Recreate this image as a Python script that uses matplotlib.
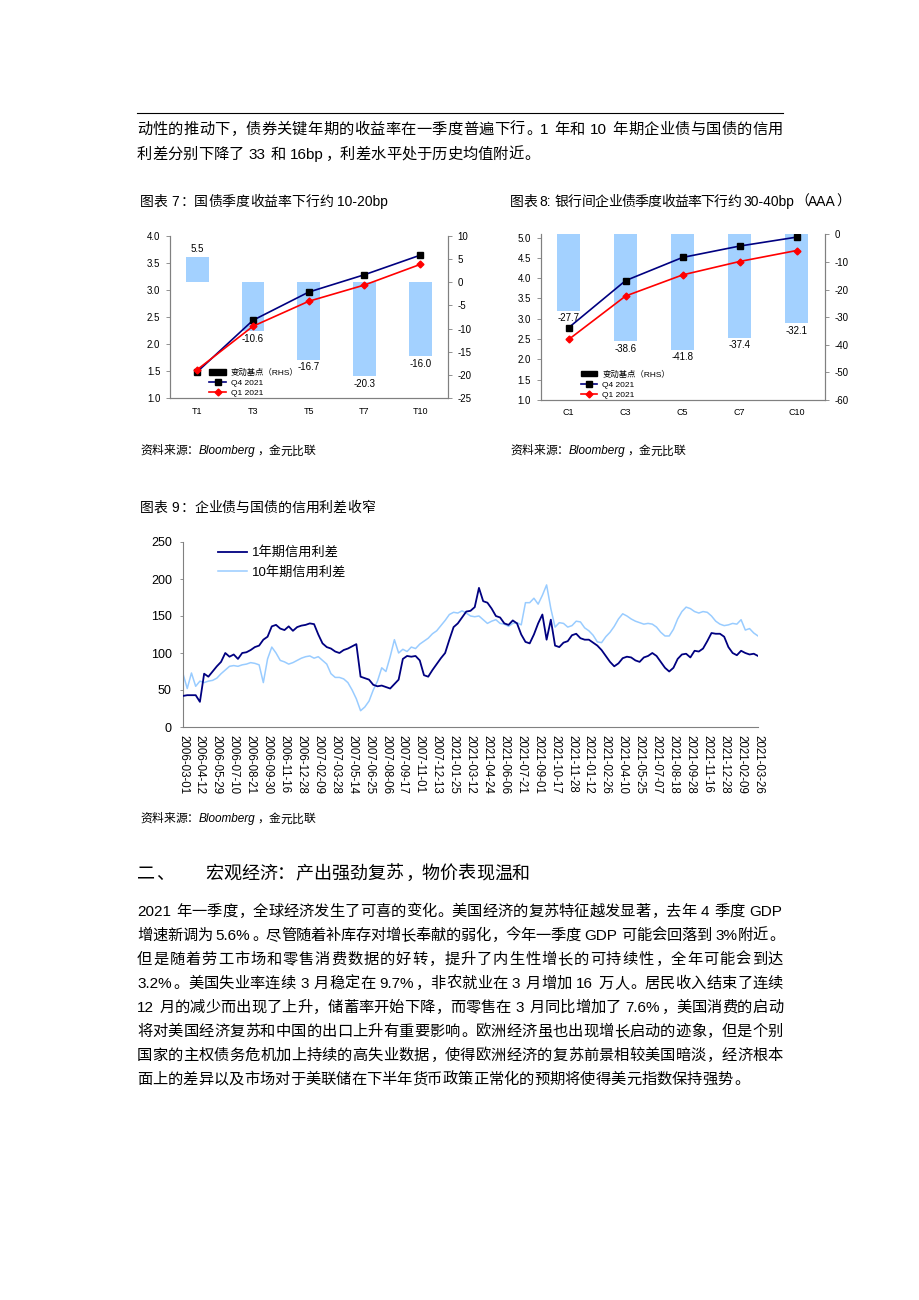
import numpy as np
import matplotlib
matplotlib.use("Agg")
import matplotlib.pyplot as plt
from matplotlib.patches import Patch
from matplotlib.lines import Line2D
from matplotlib.ticker import FormatStrFormatter

plt.rcParams["font.family"] = ["Liberation Sans", "Noto Sans CJK SC", "DejaVu Sans"]
plt.rcParams["axes.unicode_minus"] = False

# 图表7：国债
t_tenors = ["T1", "T3", "T5", "T7", "T10"]
t_change = [5.5, -10.6, -16.7, -20.3, -16.0]
t_q4 = [1.49, 2.44, 2.96, 3.28, 3.64]
t_q1 = [1.53, 2.33, 2.79, 3.09, 3.47]

# 图表8：银行间企业债
c_tenors = ["C1", "C3", "C5", "C7", "C10"]
c_change = [-27.7, -38.6, -41.8, -37.4, -32.1]
c_q4 = [2.78, 3.94, 4.51, 4.79, 5.01]
c_q1 = [2.49, 3.56, 4.08, 4.41, 4.68]

# 图表9：信用利差
date_labels = [
    "2006-03-01", "2006-04-12", "2006-05-29", "2006-07-10", "2006-08-21",
    "2006-09-30", "2006-11-16", "2006-12-28", "2007-02-09", "2007-03-28",
    "2007-05-14", "2007-06-25", "2007-08-06", "2007-09-17", "2007-11-01",
    "2007-12-13", "2021-01-25", "2021-03-12", "2021-04-24", "2021-06-06",
    "2021-07-21", "2021-09-01", "2021-10-17", "2021-11-28", "2021-01-12",
    "2021-02-26", "2021-04-10", "2021-05-25", "2021-07-07", "2021-08-18",
    "2021-09-28", "2021-11-16", "2021-12-28", "2021-02-09", "2021-03-26",
]
spread_1y = [
    42, 43, 43, 43, 34, 72, 68, 75, 82, 88, 100, 95, 98, 92, 100, 101, 104, 108,
    110, 118, 122, 136, 138, 133, 131, 136, 130, 135, 137, 138, 140, 139, 125, 113,
    108, 106, 102, 100, 104, 106, 109, 112, 68, 66, 64, 57, 55, 56, 54, 52, 58, 64,
    92, 96, 95, 96, 90, 70, 68, 77, 85, 93, 100, 118, 135, 140, 148, 156, 157, 162,
    188, 170, 168, 160, 150, 148, 140, 138, 144, 140, 125, 115, 113, 125, 140, 152,
    118, 145, 110, 108, 114, 116, 124, 126, 120, 118, 118, 114, 110, 104, 96, 88,
    82, 86, 93, 95, 94, 90, 88, 94, 96, 100, 96, 88, 80, 75, 80, 92, 98, 99, 94,
    103, 102, 106, 116, 127, 126, 126, 122, 108, 100, 97, 103, 100, 98, 99, 96,
]
spread_10y = [
    72, 52, 73, 55, 62, 60, 62, 63, 66, 72, 77, 82, 83, 82, 84, 85, 87, 86, 84, 60,
    92, 108, 100, 90, 88, 85, 87, 90, 93, 95, 96, 93, 95, 90, 85, 72, 67, 67, 65,
    60, 50, 38, 22, 27, 35, 50, 62, 80, 75, 95, 118, 100, 105, 102, 108, 106, 112,
    116, 120, 126, 130, 137, 144, 152, 155, 154, 157, 154, 150, 149, 150, 145, 140,
    143, 145, 140, 139, 136, 140, 141, 138, 168, 168, 174, 166, 178, 192, 160, 135,
    141, 140, 135, 137, 143, 142, 134, 130, 124, 115, 114, 122, 128, 136, 146, 153,
    150, 146, 143, 141, 139, 140, 139, 135, 128, 123, 123, 132, 146, 156, 162, 160,
    156, 154, 156, 155, 150, 143, 139, 137, 138, 140, 139, 145, 131, 133, 127, 123,
]

para_top = [
    "动性的推动下，债券关键年期的收益率在一季度普遍下行。1 年和 10 年期企业债与国债的信用",
    "利差分别下降了 33 和 16bp，利差水平处于历史均值附近。",
]
para_body = [
    "2021 年一季度，全球经济发生了可喜的变化。美国经济的复苏特征越发显著，去年 4 季度 GDP",
    "增速新调为 5.6%。尽管随着补库存对增长奉献的弱化，今年一季度 GDP 可能会回落到 3%附近。",
    "但是随着劳工市场和零售消费数据的好转，提升了内生性增长的可持续性，全年可能会到达",
    "3.2%。美国失业率连续 3 月稳定在 9.7%，非农就业在 3 月增加 16 万人。居民收入结束了连续",
    "12 月的减少而出现了上升，储蓄率开始下降，而零售在 3 月同比增加了 7.6%，美国消费的启动",
    "将对美国经济复苏和中国的出口上升有重要影响。欧洲经济虽也出现增长启动的迹象，但是个别",
    "国家的主权债务危机加上持续的高失业数据，使得欧洲经济的复苏前景相较美国暗淡，经济根本",
    "面上的差异以及市场对于美联储在下半年货币政策正常化的预期将使得美元指数保持强势。",
]

BAR_BLUE = "#A3D1FF"
NAVY = "#000080"
LIGHT = "#99CCFF"
GREY = "#808080"

W, H, DPI = 920, 1300, 100
fig = plt.figure(figsize=(W / DPI, H / DPI), dpi=DPI, facecolor="white")
renderer = fig.canvas.get_renderer()


def tokenize(s):
    toks, buf = [], ""
    for ch in s:
        if ch == " " or ord(ch) > 0x7F:
            if buf:
                toks.append(buf)
                buf = ""
            toks.append(ch)
        else:
            buf += ch
    if buf:
        toks.append(buf)
    return toks


def token_width(tok, size, style):
    em = size * DPI / 72
    if tok == " ":
        return 0.28 * em
    if ord(tok[0]) > 0x7F:
        return em
    t = fig.text(0, 0, tok, fontsize=size, style=style)
    w = t.get_window_extent(renderer=renderer).width
    t.remove()
    return w + 0.06 * em


def put_line(s, x0, yc, size, x1=None, style="normal"):
    """按像素位置逐字排版一行文字（可两端对齐）"""
    em = size * DPI / 72
    toks = tokenize(s)
    widths = [token_width(t, size, style) for t in toks]
    gap = 0.0
    if x1 is not None and len(toks) > 1:
        gap = (x1 - x0 - sum(widths)) / (len(toks) - 1)
    yb = 1 - (yc + 0.37 * em) / H
    x = x0
    for tok, w in zip(toks, widths):
        if tok != " ":
            wide = ord(tok[0]) > 0x7F
            if wide and tok not in "，。、":
                fig.text((x + w / 2) / W, yb, tok, fontsize=size, style=style,
                         ha="center", va="baseline")
            else:
                off = 0.08 * em if wide else 0
                fig.text((x + off) / W, yb, tok, fontsize=size, style=style,
                         ha="left", va="baseline")
        x += w + gap
    return x - gap


def source_line(x0, yc):
    x = put_line("资料来源：", x0, yc, 8.5)
    x = put_line("Bloomberg", x, yc, 8.5, style="italic")
    put_line("，金元比联", x, yc, 8.5)


def bond_chart(rect, tenors, change, q4, q1, lylim, lyticks, rylim, ryticks):
    ax = fig.add_axes(rect)
    axr = ax.twinx()
    ax.set_zorder(axr.get_zorder() + 1)
    ax.patch.set_visible(False)
    x = np.arange(len(tenors))
    axr.bar(x, change, width=0.41, color=BAR_BLUE, edgecolor="none")
    for xi, v in zip(x, change):
        axr.annotate(f"{v:.1f}", (xi, v), xytext=(0, 5.5 if v > 0 else -5.5),
                     textcoords="offset points", ha="center", va="center", fontsize=7)
    ax.plot(x, q4, color=NAVY, lw=1.2, marker="s", ms=4, mfc="black", mec="black")
    ax.plot(x, q1, color="red", lw=1.2, marker="D", ms=3.5, mfc="red", mec="red")
    ax.set_xlim(-0.49, len(tenors) - 0.5)
    ax.set_ylim(*lylim)
    ax.set_yticks(lyticks)
    ax.yaxis.set_major_formatter(FormatStrFormatter("%.1f"))
    axr.set_ylim(*rylim)
    axr.set_yticks(ryticks)
    ax.set_xticks(x)
    ax.set_xticklabels(tenors)
    for a in (ax, axr):
        a.spines["top"].set_visible(False)
        for sp in ("left", "right", "bottom"):
            a.spines[sp].set_color(GREY)
            a.spines[sp].set_linewidth(0.8)
        a.tick_params(axis="y", labelsize=7, length=3, width=0.6, color=GREY, pad=4)
    ax.tick_params(axis="x", labelsize=6.5, length=0, pad=6)
    handles = [
        Patch(facecolor="black", edgecolor="black"),
        Line2D([], [], color=NAVY, lw=1.2, marker="s", ms=4, mfc="black", mec="black"),
        Line2D([], [], color="red", lw=1.2, marker="D", ms=3.5, mfc="red", mec="red"),
    ]
    ax.legend(handles, ["变动基点（RHS）", "Q4 2021", "Q1 2021"], loc="lower left",
              bbox_to_anchor=(0.12, -0.03), frameon=False, fontsize=6,
              handlelength=2.0, handletextpad=0.6, labelspacing=0.3, borderpad=0.2)
    return ax


# 顶部分隔线与正文
fig.add_artist(Line2D([137 / W, 783 / W], [1 - 113 / H] * 2, color="black", lw=0.8))
put_line(para_top[0], 137, 128, 11, x1=783)
put_line(para_top[1], 137, 153, 11)

# 图表7、8
put_line("图表 7：国债季度收益率下行约 10-20bp", 140, 201, 10)
put_line("图表 8: 银行间企业债季度收益率下行约 30-40bp（AAA）", 510, 201, 10, x1=850)
bond_chart([170 / W, 1 - 398.3 / H, 278 / W, 162.6 / H], t_tenors, t_change, t_q4, t_q1,
           (1.0, 4.0), np.arange(1.0, 4.01, 0.5), (-25, 10), np.arange(-25, 11, 5))
bond_chart([540.7 / W, 1 - 400 / H, 284.3 / W, 165.7 / H], c_tenors, c_change, c_q4, c_q1,
           (1.0, 5.08), np.arange(1.0, 5.01, 0.5), (-60, 0), np.arange(-60, 1, 10))
source_line(140, 450)
source_line(510, 450)

# 图表9
put_line("图表 9：企业债与国债的信用利差收窄", 140, 507, 10)
ax9 = fig.add_axes([183 / W, 1 - 727 / H, 575 / W, 185 / H])
xs = np.arange(len(spread_1y))
l10, = ax9.plot(xs, spread_10y, color=LIGHT, lw=1.1, zorder=2)
l1, = ax9.plot(xs, spread_1y, color=NAVY, lw=1.3, zorder=3)
ax9.set_xlim(0, len(xs) - 1)
ax9.set_ylim(0, 250)
ax9.set_yticks(np.arange(0, 251, 50))
ax9.set_xticks(np.linspace(0, len(xs) - 1, len(date_labels)))
ax9.set_xticklabels(date_labels, rotation=270, fontsize=8.3)
ax9.tick_params(axis="x", length=0, pad=6)
ax9.tick_params(axis="y", labelsize=9, length=2, width=0.6, color=GREY, pad=6)
for sp in ("top", "right"):
    ax9.spines[sp].set_visible(False)
for sp in ("left", "bottom"):
    ax9.spines[sp].set_color(GREY)
    ax9.spines[sp].set_linewidth(0.8)
ax9.legend([l1, l10], ["1年期信用利差", "10年期信用利差"], loc="upper left",
           bbox_to_anchor=(0.04, 1.04), frameon=False, fontsize=9.5,
           handlelength=2.2, handletextpad=0.4, labelspacing=0.5)
source_line(140, 818)

# 第二节正文
put_line("二、", 137, 872, 13)
put_line("宏观经济：产出强劲复苏，物价表现温和", 205, 872, 13)
for i, line in enumerate(para_body):
    y = 910 + 24 * i
    if i < len(para_body) - 1:
        put_line(line, 137, y, 11, x1=783)
    else:
        put_line(line, 137, y, 11)

fig.savefig("out.png", dpi=DPI, facecolor="white")
